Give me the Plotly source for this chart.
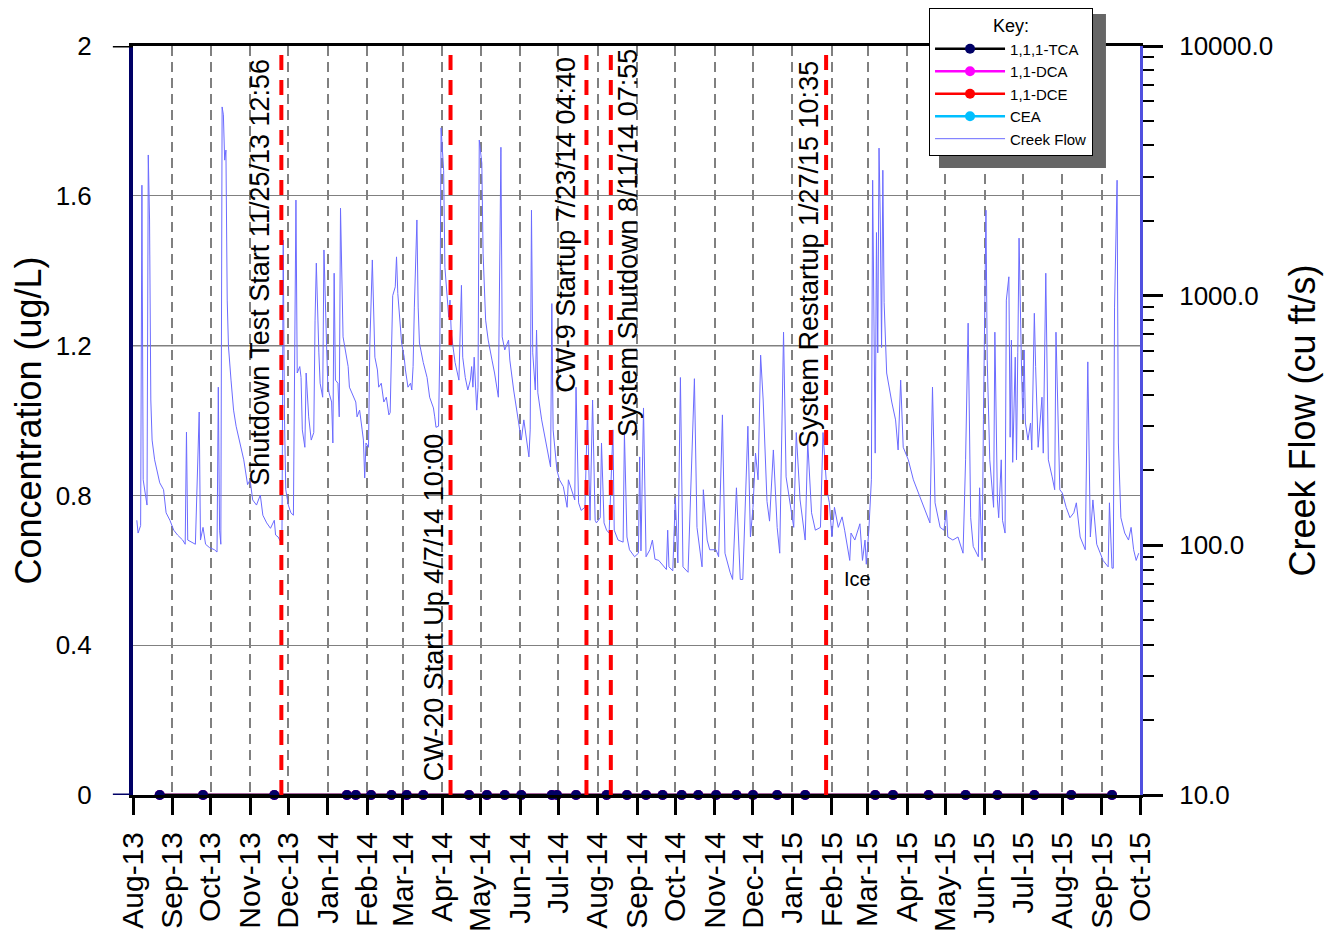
import plotly.graph_objects as go

# sampling events - every result non-detect, plotted at zero
sample_dates = [
    "2013-08-22", "2013-09-25", "2013-11-20", "2014-01-16", "2014-01-23", "2014-02-04",
    "2014-02-20", "2014-03-04", "2014-03-17", "2014-04-22", "2014-05-06", "2014-05-20",
    "2014-06-02", "2014-06-26", "2014-06-30", "2014-07-15", "2014-08-08", "2014-08-24",
    "2014-09-08", "2014-09-21", "2014-10-06", "2014-10-19", "2014-11-02", "2014-11-18",
    "2014-12-01", "2014-12-20", "2015-01-11", "2015-03-07", "2015-03-21", "2015-04-18",
    "2015-05-17", "2015-06-11", "2015-07-10", "2015-08-08", "2015-09-09",
]
tca = [0.0, 0.0, 0.0, 0.0, 0.0, 0.0, 0.0, 0.0, 0.0, 0.0, 0.0, 0.0, 0.0, 0.0, 0.0, 0.0, 0.0, 0.0,
       0.0, 0.0, 0.0, 0.0, 0.0, 0.0, 0.0, 0.0, 0.0, 0.0, 0.0, 0.0, 0.0, 0.0, 0.0, 0.0, 0.0]
dca = [0.0, 0.0, 0.0, 0.0, 0.0, 0.0, 0.0, 0.0, 0.0, 0.0, 0.0, 0.0, 0.0, 0.0, 0.0, 0.0, 0.0, 0.0,
       0.0, 0.0, 0.0, 0.0, 0.0, 0.0, 0.0, 0.0, 0.0, 0.0, 0.0, 0.0, 0.0, 0.0, 0.0, 0.0, 0.0]
dce = [0.0, 0.0, 0.0, 0.0, 0.0, 0.0, 0.0, 0.0, 0.0, 0.0, 0.0, 0.0, 0.0, 0.0, 0.0, 0.0, 0.0, 0.0,
       0.0, 0.0, 0.0, 0.0, 0.0, 0.0, 0.0, 0.0, 0.0, 0.0, 0.0, 0.0, 0.0, 0.0, 0.0, 0.0, 0.0]
cea = [0.0, 0.0, 0.0, 0.0, 0.0, 0.0, 0.0, 0.0, 0.0, 0.0, 0.0, 0.0, 0.0, 0.0, 0.0, 0.0, 0.0, 0.0,
       0.0, 0.0, 0.0, 0.0, 0.0, 0.0, 0.0, 0.0, 0.0, 0.0, 0.0, 0.0, 0.0, 0.0, 0.0, 0.0, 0.0]

# creek flow (cu ft/s)
flow_dates = [
    # Aug-13
    "2013-08-04", "2013-08-05", "2013-08-07", "2013-08-08", "2013-08-09", "2013-08-11", "2013-08-12",
    "2013-08-13", "2013-08-14", "2013-08-15", "2013-08-16", "2013-08-18", "2013-08-22", "2013-08-25",
    "2013-08-27", "2013-08-30",
    # Sep-13
    "2013-09-02", "2013-09-05", "2013-09-09", "2013-09-11", "2013-09-12", "2013-09-13", "2013-09-16",
    "2013-09-19", "2013-09-22", "2013-09-23", "2013-09-25", "2013-09-27", "2013-09-30",
    # Oct-13
    "2013-10-04", "2013-10-06", "2013-10-07", "2013-10-08", "2013-10-09", "2013-10-10", "2013-10-11",
    "2013-10-12", "2013-10-13", "2013-10-14", "2013-10-15", "2013-10-17", "2013-10-19", "2013-10-21",
    "2013-10-24", "2013-10-27", "2013-10-30",
    # Nov-13
    "2013-11-01", "2013-11-03", "2013-11-06", "2013-11-09", "2013-11-11", "2013-11-14", "2013-11-17",
    "2013-11-20", "2013-11-21", "2013-11-23", "2013-11-24", "2013-11-26", "2013-11-27", "2013-11-28",
    "2013-11-29",
    # Dec-13
    "2013-12-01", "2013-12-03", "2013-12-05", "2013-12-07", "2013-12-08", "2013-12-10", "2013-12-11",
    "2013-12-12", "2013-12-14", "2013-12-15", "2013-12-17", "2013-12-19", "2013-12-21", "2013-12-22",
    "2013-12-23", "2013-12-25", "2013-12-26", "2013-12-28", "2013-12-29", "2013-12-31",
    # Jan-14
    "2014-01-01", "2014-01-02", "2014-01-04", "2014-01-05", "2014-01-06", "2014-01-07", "2014-01-09",
    "2014-01-10", "2014-01-11", "2014-01-13", "2014-01-15", "2014-01-17", "2014-01-18", "2014-01-21",
    "2014-01-23", "2014-01-24", "2014-01-26", "2014-01-28", "2014-01-29", "2014-01-30", "2014-01-31",
    # Feb-14
    "2014-02-02", "2014-02-03", "2014-02-05", "2014-02-07", "2014-02-09", "2014-02-10", "2014-02-12",
    "2014-02-14", "2014-02-16", "2014-02-18", "2014-02-19", "2014-02-20", "2014-02-21", "2014-02-23",
    "2014-02-24", "2014-02-25", "2014-02-27", "2014-02-28",
    # Mar-14
    "2014-03-02", "2014-03-03", "2014-03-05", "2014-03-07", "2014-03-08", "2014-03-09", "2014-03-10",
    "2014-03-12", "2014-03-13", "2014-03-14", "2014-03-17", "2014-03-20", "2014-03-22", "2014-03-25",
    "2014-03-26", "2014-03-27", "2014-03-29", "2014-03-30", "2014-03-31",
    # Apr-14
    "2014-04-02", "2014-04-03", "2014-04-04", "2014-04-06", "2014-04-07", "2014-04-08", "2014-04-10",
    "2014-04-11", "2014-04-14", "2014-04-16", "2014-04-17", "2014-04-19", "2014-04-21", "2014-04-23",
    "2014-04-24", "2014-04-25", "2014-04-26", "2014-04-28", "2014-04-29", "2014-04-30",
    # May-14
    "2014-05-02", "2014-05-03", "2014-05-05", "2014-05-07", "2014-05-10", "2014-05-12", "2014-05-15",
    "2014-05-17", "2014-05-18", "2014-05-20", "2014-05-23", "2014-05-24", "2014-05-27", "2014-05-29",
    # Jun-14
    "2014-06-01", "2014-06-02", "2014-06-04", "2014-06-06", "2014-06-08", "2014-06-09", "2014-06-10",
    "2014-06-11", "2014-06-13", "2014-06-14", "2014-06-15", "2014-06-18", "2014-06-21", "2014-06-23",
    "2014-06-25", "2014-06-26", "2014-06-27", "2014-06-30",
    # Jul-14
    "2014-07-02", "2014-07-05", "2014-07-08", "2014-07-09", "2014-07-12", "2014-07-14", "2014-07-15",
    "2014-07-17", "2014-07-19", "2014-07-22", "2014-07-24", "2014-07-26", "2014-07-28", "2014-07-30",
    "2014-07-31",
    # Aug-14
    "2014-08-03", "2014-08-04", "2014-08-06", "2014-08-08", "2014-08-10", "2014-08-13", "2014-08-14",
    "2014-08-17", "2014-08-21", "2014-08-22", "2014-08-24", "2014-08-26", "2014-08-30",
    # Sep-14
    "2014-09-02", "2014-09-03", "2014-09-04", "2014-09-06", "2014-09-08", "2014-09-11", "2014-09-13",
    "2014-09-15", "2014-09-18", "2014-09-24", "2014-09-25", "2014-09-26", "2014-09-29",
    # Oct-14
    "2014-10-01", "2014-10-03", "2014-10-05", "2014-10-07", "2014-10-11", "2014-10-16", "2014-10-18",
    "2014-10-22", "2014-10-23", "2014-10-26", "2014-10-28",
    # Nov-14
    "2014-11-02", "2014-11-04", "2014-11-07", "2014-11-09", "2014-11-13", "2014-11-15", "2014-11-18",
    "2014-11-21", "2014-11-23", "2014-11-27", "2014-11-29",
    # Dec-14
    "2014-12-01", "2014-12-03", "2014-12-05", "2014-12-07", "2014-12-09", "2014-12-12", "2014-12-14",
    "2014-12-17", "2014-12-20", "2014-12-22", "2014-12-25", "2014-12-27", "2014-12-31",
    # Jan-15
    "2015-01-02", "2015-01-04", "2015-01-07", "2015-01-11", "2015-01-13", "2015-01-16", "2015-01-19",
    "2015-01-23", "2015-01-25", "2015-01-28", "2015-01-30",
    # Feb-15
    "2015-02-01", "2015-02-03", "2015-02-06", "2015-02-09", "2015-02-11", "2015-02-14", "2015-02-15",
    "2015-02-16", "2015-02-19", "2015-02-23", "2015-02-25", "2015-02-27", "2015-02-28",
    # Mar-15
    "2015-03-02", "2015-03-04", "2015-03-05", "2015-03-07", "2015-03-08", "2015-03-09", "2015-03-10",
    "2015-03-11", "2015-03-12", "2015-03-13", "2015-03-14", "2015-03-16", "2015-03-20", "2015-03-23",
    "2015-03-25", "2015-03-27", "2015-03-29",
    # Apr-15
    "2015-04-02", "2015-04-06", "2015-04-10", "2015-04-14", "2015-04-19", "2015-04-21", "2015-04-23",
    "2015-04-27", "2015-04-30",
    # May-15
    "2015-05-02", "2015-05-03", "2015-05-07", "2015-05-11", "2015-05-15", "2015-05-17", "2015-05-19",
    "2015-05-21", "2015-05-23", "2015-05-27", "2015-05-28", "2015-05-30", "2015-05-31",
    # Jun-15
    "2015-06-02", "2015-06-03", "2015-06-05", "2015-06-08", "2015-06-09", "2015-06-11", "2015-06-12",
    "2015-06-14", "2015-06-15", "2015-06-17", "2015-06-18", "2015-06-20", "2015-06-21", "2015-06-22",
    "2015-06-23", "2015-06-25", "2015-06-26", "2015-06-27", "2015-06-28", "2015-06-30",
    # Jul-15
    "2015-07-01", "2015-07-02", "2015-07-03", "2015-07-05", "2015-07-07", "2015-07-08", "2015-07-10",
    "2015-07-11", "2015-07-13", "2015-07-16", "2015-07-17", "2015-07-19", "2015-07-21", "2015-07-24",
    "2015-07-26", "2015-07-27", "2015-07-30",
    # Aug-15
    "2015-08-01", "2015-08-04", "2015-08-07", "2015-08-10", "2015-08-12", "2015-08-15", "2015-08-19",
    "2015-08-21", "2015-08-23", "2015-08-25", "2015-08-28", "2015-08-31",
    # Sep-15
    "2015-09-02", "2015-09-06", "2015-09-07", "2015-09-09", "2015-09-10", "2015-09-11", "2015-09-13",
    "2015-09-14", "2015-09-16", "2015-09-19", "2015-09-22", "2015-09-24", "2015-09-26", "2015-09-28",
    "2015-09-30",
]
flow_cfs = [
    # Aug-13
    126, 112, 120, 2770, 183, 159, 145,
    3660, 2010, 382, 264, 220, 178, 167,
    135, 126,
    # Sep-13
    115, 110, 105, 101, 284, 105, 103,
    101, 342, 105, 118, 101, 98,
    # Oct-13
    96, 94, 430, 115, 101, 5700, 5300,
    3490, 3830, 960, 625, 459, 348, 300,
    257, 220, 175,
    # Nov-13
    183, 152, 145, 159, 132, 123, 117,
    126, 110, 108, 105, 101, 1670, 318,
    167,
    # Dec-13
    145, 135, 132, 2415, 490, 520, 470,
    290, 247, 490, 327, 264, 283, 798,
    1350, 590, 446, 392, 1524, 646,
    # Jan-14
    446, 408, 375, 257, 1230, 459, 446,
    327, 2240, 684, 606, 520, 430, 392,
    375, 327, 348, 290, 264, 186, 257,
    # Feb-14
    247, 625, 1390, 567, 504, 430, 446,
    375, 392, 333, 340, 625, 1000, 1085,
    1430, 1020, 776, 646,
    # Mar-14
    567, 504, 430, 446, 419, 520, 900,
    2010, 900, 646, 540, 470, 392, 355,
    327, 297, 300, 606, 4700,
    # Apr-14
    3180, 1300, 1100, 820, 960, 708, 590,
    540, 459, 1100, 567, 470, 419, 459,
    520, 430, 567, 348, 430, 4200,
    # May-14
    3390, 1480, 798, 664, 552, 490, 392,
    3930, 684, 606, 664, 552, 419, 355,
    # Jun-14
    290, 264, 318, 271, 226, 290, 2200,
    590, 419, 728, 408, 318, 264, 241,
    206, 930, 290, 200,
    # Jul-14
    183, 172, 142, 183, 162, 152, 430,
    148, 138, 142, 348, 126, 382, 126,
    123,
    # Aug-14
    129, 257, 123, 115, 112, 290, 115,
    105, 103, 283, 108, 96, 90,
    # Sep-14
    93, 226, 95, 355, 90, 96, 105,
    88, 87, 80, 115, 82, 79,
    # Oct-14
    155, 85, 470, 82, 78, 465, 118,
    82, 167, 105, 96,
    # Nov-14
    96, 90, 333, 93, 78, 73, 170,
    73, 73, 300, 108,
    # Dec-14
    142, 234, 183, 578, 382, 150, 125,
    241, 118, 93, 714, 188, 138,
    # Jan-15
    118, 283, 152, 105, 260, 135, 115,
    118, 283, 167, 148,
    # Feb-15
    108, 142, 118, 130, 115, 93, 87,
    112, 105, 122, 87, 105, 84,
    # Mar-15
    115, 183, 2900, 234, 1790, 590, 3900,
    2010, 620, 3180, 940, 490, 375, 318,
    241, 459, 247,
    # Apr-15
    220, 183, 162, 142, 123, 430, 148,
    118, 115,
    # May-15
    138, 108, 105, 108, 93, 220, 776,
    129, 99, 90, 170, 87, 318,
    # Jun-15
    2200, 552, 220, 142, 714, 152, 129,
    220, 126, 112, 960, 1190, 271, 664,
    215, 567, 220, 590, 1700, 490,
    # Jul-15
    318, 606, 309, 264, 309, 241, 850,
    520, 247, 392, 234, 1230, 220, 188,
    167, 714, 167,
    # Aug-15
    162, 142, 129, 135, 148, 108, 96,
    543, 108, 152, 101, 93,
    # Sep-15
    87, 82, 148, 81, 81, 900, 2900,
    257, 129, 112, 105, 118, 96, 87,
    93,
]

event_dates = ["2013-11-25 12:56", "2014-04-07 10:00", "2014-07-23 04:40",
               "2014-08-11 07:55", "2015-01-27 10:35"]
event_labels = ["Shutdown Test Start 11/25/13 12:56", "CW-20 Start Up 4/7/14 10:00",
                "CW-9 Startup 7/23/14 04:40", "System Shutdown 8/11/14 07:55",
                "System Restartup 1/27/15 10:35"]
# where each label sits: (anchor side, x shift px, bottom of text in ug/L)
label_place = [("right", -4, 0.82), ("right", 0, 0.03), ("right", -3, 1.07),
               ("left", 0, 0.95), ("right", 0, 0.92)]

flow_ticks = [10, 100, 1000, 10000]
flow_ticktext = ["10.0", "100.0", "1000.0", "10000.0"]

FONT = "Liberation Sans, Arial, sans-serif"

fig = go.Figure()

series = [("CEA", cea, "#00bfff", "#00bfff", 4),
          ("1,1-DCE", dce, "#ff0000", "#ff0000", 3),
          ("1,1-DCA", dca, "#ff00ff", "#ff00ff", 2),
          ("1,1,1-TCA", tca, "black", "#000066", 1)]
for name, vals, lc, mc, rank in series:
    fig.add_trace(go.Scatter(
        x=sample_dates, y=vals, name=name, mode="lines+markers",
        line=dict(color=lc, width=2.5), marker=dict(color=mc, size=10),
        legendrank=rank, cliponaxis=False,
    ))

fig.add_trace(go.Scatter(
    x=flow_dates, y=flow_cfs, name="Creek Flow", yaxis="y2", mode="lines",
    line=dict(color="#6b6bff", width=1), legendrank=5,
))

shapes = []
for d in event_dates:
    shapes.append(dict(type="line", xref="x", yref="y", x0=d, x1=d, y0=0, y1=2,
                       line=dict(color="#ff0000", width=4, dash="15px,10px")))
# darker 1.2 line
shapes.append(dict(type="line", xref="paper", yref="y", x0=0, x1=1, y0=1.2, y1=1.2,
                   line=dict(color="black", width=1.2), layer="below"))
# axis stubs left of the plot at 0 and 2
shapes.append(dict(type="line", xref="paper", yref="y", x0=-0.02, x1=0, y0=0, y1=0,
                   line=dict(color="#000066", width=3)))
shapes.append(dict(type="line", xref="paper", yref="y", x0=-0.02, x1=0, y0=2, y1=2,
                   line=dict(color="black", width=3)))
# legend shadow
shapes.append(dict(type="rect", xref="paper", yref="paper", x0=0.8004, x1=0.9662,
                   y0=0.8371, y1=1.0427, fillcolor="#666666", line=dict(width=0)))

annotations = []
for d, txt, (side, shift, yb) in zip(event_dates, event_labels, label_place):
    annotations.append(dict(x=d, y=yb, xref="x", yref="y", text=txt, textangle=-90,
                            showarrow=False, xanchor=side, yanchor="bottom", xshift=shift,
                            font=dict(size=27, color="black", family=FONT)))
annotations.append(dict(x="2015-02-21", y=0.577, xref="x", yref="y", text="Ice",
                        showarrow=False, font=dict(size=20, color="black", family=FONT)))

# page body has an 8px margin, so the figure is drawn 8px smaller and offset
fig.update_layout(
    width=1332, height=933,
    margin=dict(l=125, r=200, t=38, b=146, autoexpand=False),
    paper_bgcolor="white", plot_bgcolor="white",
    font=dict(family=FONT, color="black"),
    showlegend=True,
    legend=dict(x=0.7905, y=1.0507, xanchor="left", yanchor="top",
                bgcolor="white", bordercolor="black", borderwidth=1,
                font=dict(size=15), itemwidth=70, tracegroupgap=0,
                title=dict(text="Key:", side="top center", font=dict(size=18))),
    xaxis=dict(
        type="date", range=["2013-08-01", "2015-10-01"],
        tick0="2013-08-01", dtick="M1", tickformat="%b-%y", tickangle=-90,
        tickfont=dict(size=30), ticks="outside", ticklen=17, tickwidth=3, tickcolor="black",
        ticklabelstandoff=5,
        showline=True, linewidth=3, linecolor="black", mirror=True,
        showgrid=True, gridcolor="#808080", griddash="10px,6px", gridwidth=1.5,
        zeroline=False,
    ),
    yaxis=dict(
        range=[0, 2], dtick=0.4, tickfont=dict(size=26), ticks="", ticklabelstandoff=32,
        showline=True, linewidth=4, linecolor="#000066",
        showgrid=True, gridcolor="#808080", gridwidth=1.2, zeroline=False,
        title=dict(text="Concentration (ug/L)", font=dict(size=36), standoff=10),
    ),
    yaxis2=dict(
        overlaying="y", side="right", type="log", range=[1, 4],
        tickvals=flow_ticks, ticktext=flow_ticktext, tickfont=dict(size=26),
        ticks="outside", ticklen=20, tickwidth=3, tickcolor="black", ticklabelstandoff=11,
        minor=dict(ticks="outside", ticklen=11, tickwidth=2, tickcolor="black",
                   tickvals=[m * 10 ** k for k in (1, 2, 3) for m in range(2, 10)]),
        showline=True, linewidth=3, linecolor="#5050e0", showgrid=False, zeroline=False,
        title=dict(text="Creek Flow (cu ft/s)", font=dict(size=36), standoff=18),
    ),
    shapes=shapes,
    annotations=annotations,
)

fig.write_html("out.html")
